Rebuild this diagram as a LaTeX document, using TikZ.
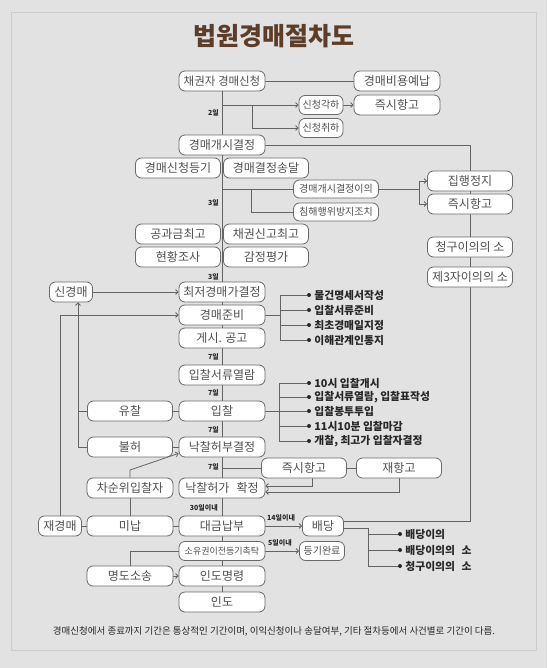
\documentclass[tikz,border=0pt]{standalone}
\usepackage{fontspec}
\setmainfont{Noto Sans CJK KR}
\usepackage{tikz}
\usetikzlibrary{positioning,backgrounds,arrows.meta}
\pgfdeclarelayer{background}
\pgfdeclarelayer{canvas}
\pgfsetlayers{canvas,background,main}
\usepackage{xcolor}
\definecolor{pagegray}{RGB}{226,226,226}
\definecolor{framegray}{RGB}{204,204,204}
\definecolor{boxline}{RGB}{105,105,105}
\definecolor{boxtext}{RGB}{80,80,80}
\definecolor{wiregray}{RGB}{100,100,100}
\definecolor{itemtext}{RGB}{40,40,40}
\definecolor{titlebrown}{RGB}{92,62,40}

\begin{document}
\begin{tikzpicture}[x=1pt, y=-1pt,
  every node/.style={font=\fontsize{12}{13}\selectfont},
  box/.style={draw=boxline, fill=white, rounded corners=6pt, line width=0.8pt,
    text=boxtext, inner sep=1pt, minimum width=86pt, minimum height=20pt},
  note/.style={font=\fontsize{10}{11}\selectfont},
  tinynote/.style={font=\fontsize{9}{10}\selectfont},
  day/.style={font=\fontsize{7}{8}\selectfont\bfseries, text=itemtext, inner sep=0pt},
  dot/.style={circle, fill=itemtext, inner sep=0pt, minimum size=4pt},
  item/.style={font=\fontsize{10.8}{12}\selectfont\bfseries, text=itemtext, inner sep=0pt},
  wire/.style={draw=wiregray, line width=0.8pt},
  arr/.style={wire, -{Straight Barb[length=2.5pt,width=5pt]}},
]

\begin{pgfonlayer}{canvas}
\fill[pagegray] (0,0) rectangle (547,668);
\draw[framegray, line width=0.8pt] (11,12) rectangle (536,650);
\end{pgfonlayer}

\node[font=\fontsize{25}{27}\selectfont\bfseries, text=titlebrown] at (274,36) (title) {법원경매절차도};

% main column
\node[box, font=\fontsize{11.5}{12}\selectfont] at (222, 81) (req) {채권자 경매신청};
\node[box] at (222,145) (start)    {경매개시결정};
\node[box, minimum width=85pt] at (178,168) (reg)   {경매신청등기};
\node[box, minimum width=85pt] at (266,168) (serve) {경매결정송달};
\node[box, minimum width=85pt] at (178,234) (tax)       {공과금최고};
\node[box, minimum width=85pt] at (266,234) (claimcall) {채권신고최고};
\node[box, minimum width=85pt] at (178,257) (survey)    {현황조사};
\node[box, minimum width=85pt] at (266,257) (appraise)  {감정평가};
\node[box] at (222,292) (minprice) {최저경매가결정};
\node[box] at (222,315) (prep)     {경매준비};
\node[box] at (222,338) (notice)   {게시. 공고};
\node[box] at (222,375) (docs)     {입찰서류열람};
\node[box] at (222,411) (bid)      {입찰};
\node[box] at (222,447) (decide)   {낙찰허부결정};
\node[box] at (222,488) (confirm)  {낙찰허가\hspace{0.6em}확정};
\node[box] at (222,526) (pay)      {대금납부};
\node[box, tinynote, minimum height=19pt] at (222,551) (transfer) {소유권이전등기촉탁};
\node[box] at (222,576) (order)    {인도명령};
\node[box] at (222,602) (deliver)  {인도};

% top right
\node[box] at (397, 81) (fee)      {경매비용예납};
\node[box, note, minimum width=44pt, minimum height=19pt] at (321,105) (reject)   {신청각하};
\node[box] at (397,105) (appeal1)  {즉시항고};
\node[box, note, minimum width=44pt, minimum height=19pt] at (321,128) (withdraw) {신청취하};
\node[box, note, minimum width=85pt, minimum height=18pt] at (336,189) (objection) {경매개시결정이의};
\node[box, note, minimum width=85pt, minimum height=18pt] at (336,212) (prevent)   {침해행위방지조치};

% right column
\node[box, minimum width=85pt] at (470,181) (stay)      {집행정지};
\node[box, minimum width=85pt] at (470,204) (appeal2)   {즉시항고};
\node[box, minimum width=85pt] at (470,247) (claimsuit) {청구이의의 소};
\node[box, minimum width=85pt] at (470,277) (thirdsuit) {제3자이의의 소};

% left side
\node[box, minimum width=43pt] at ( 71,292) (newauc) {신경매};
\node[box, minimum width=85pt] at (130,411) (fail)   {유찰};
\node[box, minimum width=85pt] at (130,447) (deny)   {불허};
\node[box] at (130,488) (second)    {차순위입찰자};
\node[box, minimum width=43pt] at ( 60,526) (reauc) {재경매};
\node[box] at (130,526) (unpaid)    {미납};
\node[box] at (130,576) (evictsuit) {명도소송};

% after sale
\node[box, minimum width=85pt] at (304,468) (appeal3)  {즉시항고};
\node[box, minimum width=85pt] at (399,468) (reappeal) {재항고};
\node[box, minimum width=41pt] at (323,526) (dist)     {배당};
\node[box, note, minimum width=45pt, minimum height=19pt] at (322,551) (regdone) {등기완료};

% day labels
\node[day, anchor=east] at (219,113) (dayA) {2일};
\node[day, anchor=east] at (219,203) (dayB) {3일};
\node[day, anchor=east] at (219,277) (dayC) {3일};
\node[day, anchor=east] at (219,357) (dayD) {7일};
\node[day, anchor=east] at (219,393) (dayE) {7일};
\node[day, anchor=east] at (219,430) (dayF) {7일};
\node[day, anchor=east] at (219,467) (dayG) {7일};
\node[day, anchor=east] at (218,508) (dayH) {30일이내};
\node[day, anchor=west] at (267,518) (dayI) {14일이내};
\node[day, anchor=west] at (268,543) (dayJ) {5일이내};

% bullet lists
\node[dot] at (309,295) (pd1) {};
\node[dot] at (309,310) (pd2) {};
\node[dot] at (309,325) (pd3) {};
\node[dot] at (309,340) (pd4) {};
\node[item, right=3pt of pd1] (pt1) {물건명세서작성};
\node[item, right=3pt of pd2] (pt2) {입찰서류준비};
\node[item, right=3pt of pd3] (pt3) {최초경매일지정};
\node[item, right=3pt of pd4] (pt4) {이해관계인통지};

\node[dot] at (309,383) (bd1) {};
\node[dot] at (309,397) (bd2) {};
\node[dot] at (309,411) (bd3) {};
\node[dot] at (309,426) (bd4) {};
\node[dot] at (309,441) (bd5) {};
\node[item, right=3pt of bd1] (bt1) {10시 입찰개시};
\node[item, right=3pt of bd2] (bt2) {입찰서류열람, 입찰표작성};
\node[item, right=3pt of bd3] (bt3) {입찰봉투투입};
\node[item, right=3pt of bd4] (bt4) {11시10분 입찰마감};
\node[item, right=3pt of bd5] (bt5) {개찰, 최고가 입찰자결정};

\node[dot] at (400,534) (cd1) {};
\node[dot] at (400,550) (cd2) {};
\node[dot] at (400,566) (cd3) {};
\node[item, right=3pt of cd1] (ct1) {배당이의};
\node[item, right=3pt of cd2] (ct2) {배당이의의\hspace{0.6em}소};
\node[item, right=3pt of cd3] (ct3) {청구이의의\hspace{0.6em}소};

\node[font=\fontsize{9.5}{10}\selectfont, text=itemtext] at (274,631) (foot)
  {경매신청에서 종료까지 기간은 통상적인 기간이며, 이익신청이나 송달여부, 기타 절차등에서 사건별로 기간이 다름.};

\coordinate (wfork)     at (252,105);
\coordinate (pfork)     at (251,189);
\coordinate (sfork)     at (419,189);
\coordinate (rturn)     at (470,521);
\coordinate (lfork)     at ( 78,447);
\coordinate (sbend)     at (130,470);
\coordinate (prepfork)  at (280,315);
\coordinate (bidfork)   at (279,411);
\coordinate (distfork)  at (368,528);

\begin{pgfonlayer}{background}
\draw[wire] (req.south) -- (deliver.north);
\draw[wire] (req.east) -- (fee.west);
\draw[arr] (req.south |- reject.west) -- (reject.west);
\draw[arr] (wfork) |- (withdraw.west);
\draw[arr] (reject.east) -- (appeal1.west);
\draw[wire] (start.east) -| (rturn) -- (rturn -| dist.east);
\draw[wire] (start.south |- objection.west) -- (objection.west);
\draw[wire] (pfork) |- (prevent.west);
\draw[wire] (objection.east) -- (sfork);
\draw[arr] (sfork) |- (stay.west);
\draw[arr] (sfork) |- (appeal2.west);
\draw[arr] (newauc.east) -- (minprice.west);
\draw[arr] (reauc.north) |- (prep.west);
\draw[wire] (deny.west) -- (lfork);
\draw[wire] (fail.west) -- (fail.west -| lfork);
\draw[arr] (lfork) -- (lfork |- newauc.south);
\draw[wire] (fail.east) -- (bid.west);
\draw[wire] (deny.east) -- (decide.west);
\draw[wire] (unpaid.north) -- (second.south);
\draw[arr] (second.north) -- (sbend) -- ([yshift=4pt]decide.south west);
\draw[wire] (decide.south |- appeal3.west) -- (appeal3.west);
\draw[wire] (appeal3.east) -- (reappeal.west);
\draw[arr] ([xshift=8pt]appeal3.south) |- ([yshift=2pt]confirm.east);
\draw[arr] (reappeal.south) |- ([yshift=-4pt]confirm.east);
\draw[wire] (reauc.east) -- (unpaid.west);
\draw[wire] (unpaid.east) -- (pay.west);
\draw[arr] (pay.east) -- (dist.west);
\draw[arr] (transfer.east) -- (regdone.west);
\draw[wire] (transfer.west) -| (evictsuit.north);
\draw[arr] (evictsuit.east) -- (order.west);
\draw[wire] (prep.east) -- (prepfork);
\draw[wire] (prepfork) |- (pd1);
\draw[wire] (prepfork) |- (pd2);
\draw[wire] (prepfork) |- (pd3);
\draw[wire] (prepfork) |- (pd4);
\draw[wire] (bid.east) -- (bidfork);
\draw[wire] (bidfork) |- (bd1);
\draw[wire] (bidfork) |- (bd2);
\draw[wire] (bidfork) |- (bd3);
\draw[wire] (bidfork) |- (bd4);
\draw[wire] (bidfork) |- (bd5);
\draw[wire] ([yshift=-2pt]dist.east) -- (distfork);
\draw[wire] (distfork) |- (cd1);
\draw[wire] (distfork) |- (cd2);
\draw[wire] (distfork) |- (cd3);
\end{pgfonlayer}
\end{tikzpicture}
\end{document}
